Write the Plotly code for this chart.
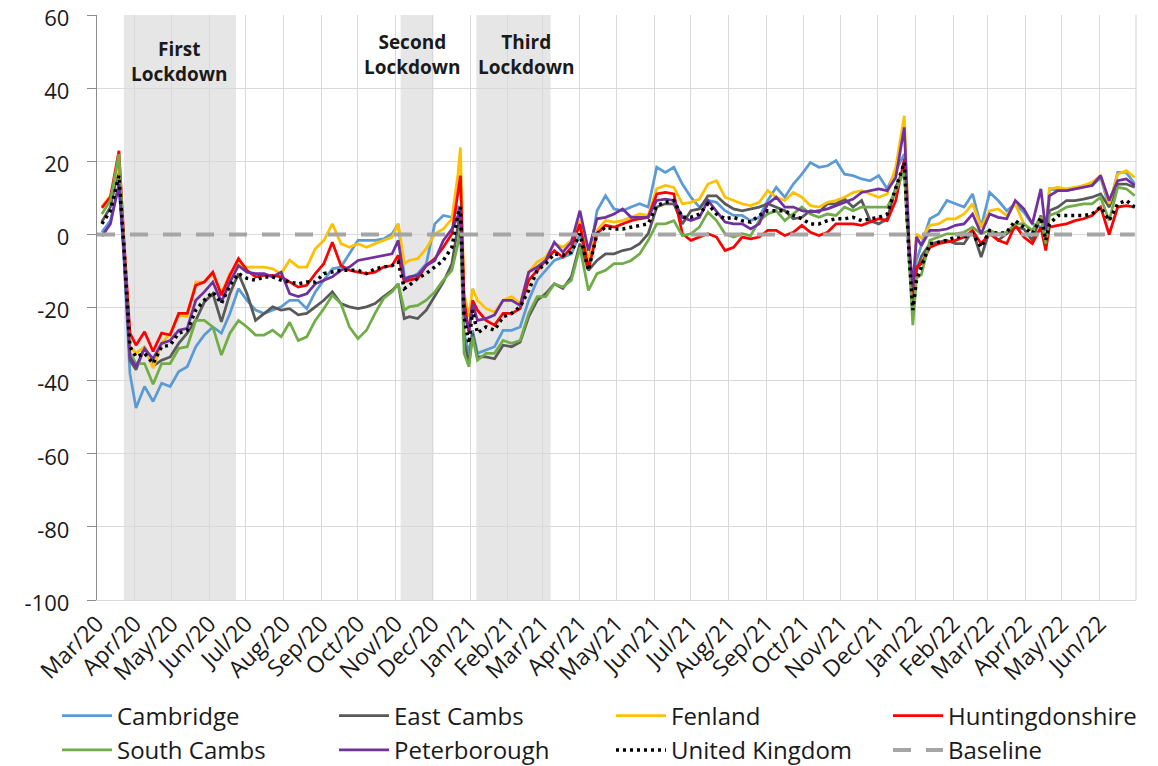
import plotly.graph_objects as go

# weekly readings (plus a few extra days around the sharp spikes)
dates = [
    "2020-03-05", "2020-03-12", "2020-03-19", "2020-03-23", "2020-03-28",
    "2020-04-02", "2020-04-09", "2020-04-16", "2020-04-23", "2020-04-30",
    "2020-05-07", "2020-05-14", "2020-05-21", "2020-05-28",
    "2020-06-04", "2020-06-11", "2020-06-18", "2020-06-25",
    "2020-07-02", "2020-07-09", "2020-07-16", "2020-07-23", "2020-07-30",
    "2020-08-06", "2020-08-13", "2020-08-20", "2020-08-27",
    "2020-09-03", "2020-09-10", "2020-09-17", "2020-09-24",
    "2020-10-01", "2020-10-08", "2020-10-15", "2020-10-22", "2020-10-29",
    "2020-11-03", "2020-11-08", "2020-11-12", "2020-11-19", "2020-11-26",
    "2020-12-03", "2020-12-10", "2020-12-17", "2020-12-22", "2020-12-24", "2020-12-27", "2020-12-31",
    "2021-01-03", "2021-01-07", "2021-01-14", "2021-01-21", "2021-01-28",
    "2021-02-04", "2021-02-11", "2021-02-18", "2021-02-25",
    "2021-03-04", "2021-03-11", "2021-03-18", "2021-03-25",
    "2021-04-01", "2021-04-08", "2021-04-15", "2021-04-22", "2021-04-29",
    "2021-05-06", "2021-05-13", "2021-05-20", "2021-05-27",
    "2021-06-03", "2021-06-10", "2021-06-17", "2021-06-24",
    "2021-07-01", "2021-07-08", "2021-07-15", "2021-07-22", "2021-07-29",
    "2021-08-05", "2021-08-12", "2021-08-19", "2021-08-26",
    "2021-09-02", "2021-09-09", "2021-09-16", "2021-09-23", "2021-09-30",
    "2021-10-07", "2021-10-14", "2021-10-21", "2021-10-28",
    "2021-11-04", "2021-11-11", "2021-11-18", "2021-11-25",
    "2021-12-02", "2021-12-09", "2021-12-16", "2021-12-23", "2021-12-27", "2021-12-30",
    "2022-01-02", "2022-01-06", "2022-01-13", "2022-01-20", "2022-01-27",
    "2022-02-03", "2022-02-10", "2022-02-17", "2022-02-24",
    "2022-03-03", "2022-03-10", "2022-03-17", "2022-03-24", "2022-03-31",
    "2022-04-07", "2022-04-14", "2022-04-18", "2022-04-21", "2022-04-28",
    "2022-05-05", "2022-05-12", "2022-05-19", "2022-05-26",
    "2022-06-02", "2022-06-09", "2022-06-16", "2022-06-23", "2022-06-30",
]

cambridge = [
    0.6, 3.8, 13.4, -6, -38,
    -47.5, -41.6, -45.7, -40.7, -41.6,
    -37.5, -36.2, -30.7, -27.5,
    -25.3, -27, -21.6, -14.8,
    -18, -20.7, -21.6, -20.7, -19.8,
    -18, -18, -20.3, -15.7,
    -12.5, -9.4, -8.9, -5.3,
    -1.6, -1.6, -1.6, -1.2, 0.2,
    2.9, -11.6, -12, -10.7, -8,
    2.9, 5.2, 4.7, 7.5, 6.5, -27, -32.5,
    -26.2, -32.5, -31.6, -30.7, -26.2,
    -26.2, -25.3, -18, -12.5,
    -9.8, -7.1, -6.2, -5.3,
    0.2, -8, 6.5, 10.6, 7,
    6.5, 7.5, 8.4, 7.5,
    18.4, 17, 18.4, 13.8,
    10.2, 7.5, 9.3, 8.8, 6.5,
    5.2, 5.2, 3.8, 4.7,
    9.3, 12.9, 10.2, 13.8, 16.5,
    19.7, 18.4, 18.8, 20.2,
    16.5, 16.1, 15.2, 14.7,
    16.1, 12.5, 17.5, 22, -4.4, -15.3,
    -7, -3, 4.3, 5.6, 9.3,
    8.4, 7.5, 11.1, 2,
    11.5, 9.3, 6.5, 8.4, 6.1,
    2.9, 2, 0.2, 12.5, 12,
    12, 12.5, 13.4, 13.4,
    15.6, 7.5, 17, 17, 13.8,
]

east_cambs = [
    3.5, 7.5, 18.4, -4, -34.4,
    -37, -30.7, -36, -34.4, -33.5,
    -29.8, -27, -23.5, -18.5,
    -16.2, -23.9, -16.2, -10.7,
    -16.2, -23.5, -21.6, -19.8, -20.7,
    -20.3, -22, -21.6, -19.8,
    -18, -15.7, -18.9, -19.8,
    -20.3, -19.8, -18.9, -17, -15.3,
    -13.5, -23, -22.5, -23, -20.7,
    -17, -13, -8, 2, 6.5, -29, -35.3,
    -27, -33.5, -33.5, -34, -30.3,
    -30.7, -29.4, -22.5, -18,
    -16.2, -13.5, -14.8, -11.6,
    -2.5, -9.8, -7.1, -5.3, -5.3,
    -4.4, -3.9, -2.5, 0.2,
    7.5, 8.4, 8.4, 2.9,
    6.5, 7, 10.6, 10.6, 8.4,
    7, 6.5, 7, 7.5,
    8.4, 7.5, 6.5, 4.3, 4.7,
    6.5, 6.1, 8.4, 8.4,
    9.7, 7.5, 9.3, 3.8,
    2.9, 4.3, 12.9, 18.4, -7, -18.9,
    -10, -6, -2.5, -2.1, -1.6,
    -2.5, -2.5, 1.1, -6.2,
    1.1, -1.6, 0.2, 2, 1.5,
    -1.6, 5.2, -1.6, 6.5, 7.5,
    9.3, 9.3, 9.7, 10.2,
    11.1, 7.5, 13.8, 13.8, 12.9,
]

fenland = [
    7.6, 10.6, 19.3, -2, -30.7,
    -32.5, -30.7, -36.6, -29.8, -27,
    -22, -22.5, -13, -13,
    -10.7, -16.2, -10.7, -8,
    -8.9, -8.9, -8.9, -9.4, -10.7,
    -7, -8.9, -8.9, -3.9,
    -1.6, 2.9, -2.5, -3.5,
    -2.5, -3.5, -2.5, -1.6, -0.7,
    2.9, -8, -7.1, -6.6, -3.9,
    0.2, 1.5, 4.3, 16.5, 23.8, -16, -22.5,
    -14.8, -18, -20.3, -21.2, -18,
    -17, -18.9, -10.3, -7.5,
    -6.2, -2.5, -3.5, -1.6,
    3.8, -7.1, 1.1, 3.8, 3.4,
    3.8, 4.7, 5.6, 5.2,
    12.5, 13.4, 12.9, 8.4,
    8.8, 9.7, 13.8, 14.7, 10.2,
    9.3, 8.4, 7.9, 8.8,
    12, 10.2, 9.3, 11.5, 10.2,
    7.9, 7.5, 8.8, 9.3,
    10.2, 11.5, 12, 11.1,
    10.2, 11.1, 18.4, 32.5, -2.5, -17,
    0.2, -1, 2.5, 2.9, 4.3,
    4.3, 5.6, 8.4, 2,
    6.5, 7, 5.2, 8.4, 2.9,
    1.1, 4.7, -0.7, 12.5, 12.9,
    12.5, 12.9, 13.4, 14.3,
    16.1, 8.4, 16.5, 17.5, 15.6,
]

huntingdonshire = [
    7.3, 10.2, 22.9, -1, -27,
    -30.3, -26.6, -32, -27, -27.5,
    -21.6, -21.6, -13.9, -13,
    -10.3, -16.6, -11.2, -6.6,
    -9.8, -11.6, -11.2, -11.2, -11.6,
    -13, -14.4, -13.9, -10.7,
    -8, -2.1, -8.5, -9.8,
    -10.3, -10.7, -10.3, -8.9, -8.5,
    -5.7, -13, -12.5, -12, -8.5,
    -6.6, -3.5, 0.2, 12, 16.1, -18, -27,
    -18, -20.7, -23.5, -24.8, -21.6,
    -21.6, -20.3, -12.5, -9.8,
    -7.1, -4.4, -6.2, -3.5,
    2.9, -9.4, 0.2, 2.5, 2,
    2.9, 3.8, 4.3, 4.7,
    11.1, 11.5, 11.1, 0.2,
    -1.6, -0.7, 0.2, -0.7, -4.4,
    -3.5, -0.7, -1.2, -0.7,
    1.1, 1.1, -0.3, 0.6, 2.5,
    0.6, -0.3, 0.6, 2.9,
    2.9, 2.9, 2.5, 3.4,
    4.3, 3.8, 9.3, 20.6, -5.3, -18,
    -8.9, -8, -3.5, -2.5, -2.1,
    -1.6, -0.7, 1.1, -2.5,
    0.2, -1.6, -2.5, 2.5, -0.7,
    -2.5, 2, -4.4, 2, 2.5,
    2.9, 3.8, 4.3, 5.2,
    7.5, 0, 7.5, 7.9, 7.5,
]

south_cambs = [
    5.6, 9.3, 22, -3, -32.5,
    -35.3, -35.3, -41, -35.3, -35.3,
    -31.2, -30.7, -23.5, -23.5,
    -25.3, -33, -27, -23.5,
    -25.3, -27.5, -27.5, -26.2, -28,
    -24, -29, -28, -23.5,
    -20.3, -16.6, -18.9, -25.3,
    -28.5, -26.2, -21.6, -17.5, -15.7,
    -13.5, -20.7, -19.8, -19.4, -18,
    -15.7, -12.5, -9.8, -2.5, 2, -32.5, -36.2,
    -28, -34.4, -32.5, -32.5, -29,
    -29.8, -29, -21.6, -17,
    -17, -13.5, -14.4, -12.5,
    -3.5, -15.3, -10.7, -9.8, -8,
    -8, -7.1, -5.3, -1.6,
    2.9, 2.9, 3.8, -0.3,
    0.2, 2, 6.1, 3.8, 0.2,
    -0.7, 0.2, -0.3, 3.8,
    5.6, 6.5, 3.8, 5.6, 7.5,
    5.6, 4.7, 5.6, 5.2,
    7.5, 6.5, 7.5, 7.5,
    7.5, 7.5, 12, 17.5, -7.1, -24.8,
    -12, -11, -1.6, -0.7, 0.2,
    0.2, 0.6, 2, 0.2,
    1.1, 0.2, 0.6, 2.9, 2.9,
    1.1, 4.7, -2.5, 5.2, 6.1,
    7.5, 7.9, 8.4, 8.4,
    10.2, 3.8, 12.9, 12.5, 10.6,
]

peterborough = [
    -0.5, 2.9, 13.8, -4, -33.5,
    -36.2, -31.2, -34, -29.8, -29,
    -26.2, -25.7, -18, -15.7,
    -13, -18.5, -13, -8.5,
    -10.3, -10.7, -10.7, -11.6, -10.3,
    -16.2, -17, -16.2, -13.5,
    -12.5, -11.6, -9.8, -8.9,
    -7.1, -6.6, -6.2, -5.7, -5.3,
    -1.6, -12.5, -11.6, -11.2, -8.5,
    -7.1, -1.6, 1.5, 5, 7.5, -21.6, -26.2,
    -18.9, -23.5, -23, -22, -18,
    -18, -19.4, -10.3, -8.9,
    -7.1, -2.1, -4.8, -2.1,
    6.5, -4.4, 4.3, 4.7, 5.6,
    7, 4.7, 4.7, 4.7,
    9.3, 9.7, 9.3, 4.7,
    3.8, 4.7, 9.3, 6.5, 3.4,
    2.9, 2.9, 1.5, 2.9,
    8.4, 10.2, 7.5, 7.5, 6.5,
    6.1, 6.5, 7, 7.9,
    8.8, 9.7, 11.5, 12,
    12.5, 12, 15.6, 29.3, -3.5, -14.4,
    -0.7, -3, 1.1, 1.1, 1.5,
    2.5, 2.9, 5.6, 0.2,
    5.6, 4.7, 4.3, 9.3, 7,
    2.9, 12.5, 1.1, 10.6, 12,
    12, 12.5, 12.9, 13.4,
    16.1, 9.3, 14.7, 15.2, 13.4,
]

united_kingdom = [
    2.9, 6.5, 16.1, -3, -30.7,
    -33.5, -32.5, -35.3, -30.7, -30.3,
    -27, -26.2, -20.7, -18,
    -15.7, -18.9, -13.9, -10.7,
    -12, -12.5, -11.6, -11.6, -12.5,
    -13, -13.5, -13, -13,
    -10.7, -10.3, -9.8, -9.8,
    -9.8, -10.7, -9.4, -8.9, -8.5,
    -7.5, -14.8, -13.9, -12, -10.7,
    -8.9, -7.1, -3.5, 5.6, 7.5, -22.5, -29.8,
    -20.7, -27, -25.3, -26.2, -22.5,
    -21.6, -19.8, -15.3, -9.8,
    -8, -5.3, -5.7, -4.8,
    0.2, -9.8, 0.2, 2, 1.5,
    1.5, 2, 2.5, 2.9,
    7.9, 8.8, 9.3, 4.7,
    4.7, 5.6, 8.4, 5.6, 4.3,
    4.7, 3.8, 3.4, 5.2,
    6.5, 6.5, 6.5, 5.2, 4.3,
    2.9, 2.9, 3.8, 4.3,
    4.3, 4.7, 3.8, 4.3,
    4.7, 5.6, 12.9, 19.7, -6.2, -20.7,
    -12.5, -9, -2.5, -2.1, -1.6,
    -0.7, -0.7, 0.2, -3.5,
    1.1, 0.2, 0.6, 3.8, 2,
    0.2, 4.7, -1.6, 2.9, 5.2,
    5.2, 5.2, 5.2, 5.6,
    7.5, 3.8, 8.4, 9.3, 7.5,
]

baseline_dates = ["2020-03-01", "2022-06-30"]
baseline_values = [0, 0]

tick_dates = [
    "2020-03-01", "2020-04-01", "2020-05-01", "2020-06-01", "2020-07-01", "2020-08-01",
    "2020-09-01", "2020-10-01", "2020-11-01", "2020-12-01", "2021-01-01", "2021-02-01",
    "2021-03-01", "2021-04-01", "2021-05-01", "2021-06-01", "2021-07-01", "2021-08-01",
    "2021-09-01", "2021-10-01", "2021-11-01", "2021-12-01", "2022-01-01", "2022-02-01",
    "2022-03-01", "2022-04-01", "2022-05-01", "2022-06-01",
]
tick_labels = [
    "Mar/20", "Apr/20", "May/20", "Jun/20", "Jul/20", "Aug/20",
    "Sep/20", "Oct/20", "Nov/20", "Dec/20", "Jan/21", "Feb/21",
    "Mar/21", "Apr/21", "May/21", "Jun/21", "Jul/21", "Aug/21",
    "Sep/21", "Oct/21", "Nov/21", "Dec/21", "Jan/22", "Feb/22",
    "Mar/22", "Apr/22", "May/22", "Jun/22",
]
y_ticks = [-100, -80, -60, -40, -20, 0, 20, 40, 60]
y_tick_labels = ["-100", "-80", "-60", "-40", "-20", "0", "20", "40", "60"]

lockdown_starts = ["2020-03-23", "2020-11-05", "2021-01-06"]
lockdown_ends = ["2020-06-23", "2020-12-02", "2021-03-08"]
lockdown_names = ["First<br>Lockdown", "Second<br>Lockdown", "Third<br>Lockdown"]

series = [
    ("Cambridge", cambridge, "#5B9BD5"),
    ("East Cambs", east_cambs, "#595959"),
    ("Fenland", fenland, "#FFC000"),
    ("Huntingdonshire", huntingdonshire, "#FF0000"),
    ("South Cambs", south_cambs, "#70AD47"),
    ("Peterborough", peterborough, "#7030A0"),
]
for name, vals, _ in series:
    assert len(vals) == len(dates), name
assert len(united_kingdom) == len(dates)

fig = go.Figure()
for name, vals, colour in series:
    fig.add_trace(go.Scatter(x=dates, y=vals, mode="lines", name=name,
                             line=dict(color=colour, width=2.75)))
fig.add_trace(go.Scatter(x=dates, y=united_kingdom, mode="lines", name="United Kingdom",
                         line=dict(color="#000000", width=3.5, dash="3px,4px")))
fig.add_trace(go.Scatter(x=baseline_dates, y=baseline_values, mode="lines", name="Baseline",
                         line=dict(color="#A5A5A5", width=4, dash="18px,15px")))

# lockdown shading, drawn under the gridlines
for start, end in zip(lockdown_starts, lockdown_ends):
    fig.add_shape(type="rect", xref="x", yref="paper", x0=start, x1=end, y0=0, y1=1,
                  fillcolor="#E7E6E6", line_width=0, layer="below")
fig.add_shape(type="line", xref="paper", yref="paper", x0=1, x1=1, y0=0, y1=1,
              line=dict(color="#D9D9D9", width=1.3))

label_x = ["2020-05-08", "2020-11-15", "2021-02-16"]
label_y = [47.4, 49.3, 49.3]
for name, lx, ly in zip(lockdown_names, label_x, label_y):
    fig.add_annotation(x=lx, y=ly, text="<b>" + name + "</b>", showarrow=False,
                       font=dict(size=19, color="#1a1a1a"), align="center")

# the page body adds an 8px offset, so the figure is 8px smaller than the window
fig.update_layout(
    width=1150, height=758,
    margin=dict(l=89, r=22, t=7, b=166, autoexpand=False),
    paper_bgcolor="white", plot_bgcolor="white",
    font=dict(family="Open Sans, sans-serif", size=23, color="#1a1a1a"),
    legend=dict(orientation="h", x=-0.0385, xanchor="left", y=-0.16, yanchor="top",
                itemwidth=50, entrywidth=212, entrywidthmode="pixels",
                font=dict(size=24), bgcolor="rgba(0,0,0,0)"),
    xaxis=dict(type="date", range=["2020-03-01", "2022-07-01"], automargin=False,
               tickvals=tick_dates, ticktext=tick_labels, tickangle=-45,
               showgrid=True, gridcolor="#D9D9D9", gridwidth=1.3,
               showline=True, linecolor="#D9D9D9", linewidth=1.3,
               tickfont=dict(size=23)),
    yaxis=dict(range=[-100, 60.05], tickvals=y_ticks, ticktext=y_tick_labels, automargin=False,
               showgrid=True, gridcolor="#D9D9D9", gridwidth=1.3,
               zeroline=False, showline=True, linecolor="#8C8C8C", linewidth=1.3,
               ticks="outside", ticklen=9, tickcolor="#8C8C8C", tickwidth=1.3,
               ticklabelstandoff=13, ticklabeloverflow="allow", ticklabelshift=3,
               tickfont=dict(size=22)),
)

fig.write_html("out.html")
